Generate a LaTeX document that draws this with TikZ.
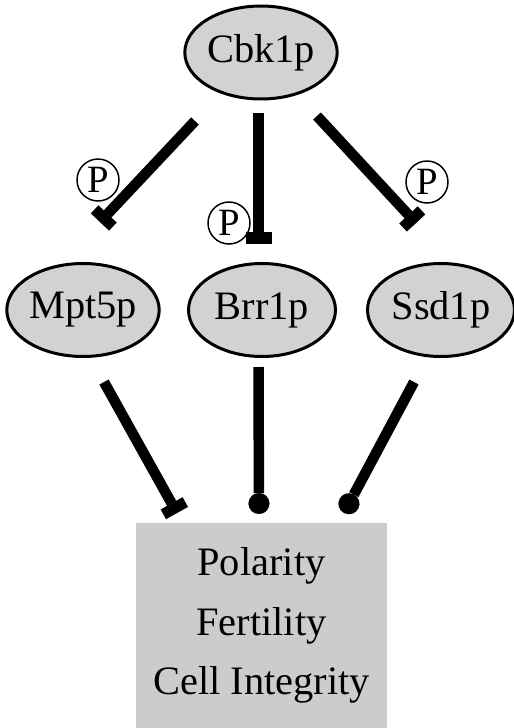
\documentclass[tikz,border=0pt]{standalone}
\usepackage{fontspec}
\setmainfont{Liberation Serif}
\usetikzlibrary{arrows.meta,shapes.geometric}

\begin{document}
\begin{tikzpicture}[x=0.02cm, y=-0.02cm,
  protein/.style={draw, ellipse, line width=0.06cm, fill=gray!35,
    minimum width=2.94cm, minimum height=1.86cm, inner sep=0pt,
    font=\fontsize{23}{28}\selectfont},
  phospho/.style={draw, circle, line width=0.03cm, fill=white,
    minimum size=0.84cm, inner sep=0pt, font=\fontsize{22}{26}\selectfont},
  inhibit/.style={line width=0.21cm,
    -{Rectangle[length=0.22cm, width=0.5cm, line width=0.1pt]}},
  bind/.style={line width=0.21cm, -{Circle[length=0.42cm, line width=0.1pt]}}]
  \useasboundingbox (0,0) rectangle (514,728);
  \node[protein] (cbk) at (261,52.5) {Cbk1p};
  \node[protein] (mpt) at (83,310) {Mpt5p};
  \node[protein] (brr) at (262,310) {Brr1p};
  \node[protein] (ssd) at (441,310) {Ssd1p};
  \node[draw=none, fill=gray!40, rectangle, minimum width=5.02cm,
    minimum height=4.1cm, align=center,
    font=\fontsize{23}{33.8}\selectfont] (out) at (261.5,625.5)
    {Polarity\\Fertility\\Cell Integrity};
  \node[phospho] (p1) at (98,180) {P};
  \node[phospho] (p2) at (229,223) {P};
  \node[phospho] (p3) at (427,182) {P};
  % ends of the connectors
  \coordinate (a1) at (195,121);  \coordinate (a2) at (100,222);
  \coordinate (b1) at (258.5,113); \coordinate (b2) at (258.5,243);
  \coordinate (c1) at (317,116);  \coordinate (c2) at (416,223);
  \coordinate (d1) at (104,382);  \coordinate (d2) at (177,513);
  \coordinate (e1) at (258.5,367); \coordinate (e2) at (259,514);
  \coordinate (f1) at (414,382);  \coordinate (f2) at (344,513);
  % Draw the inhibitions by Cbk1p
  \draw[inhibit] (a1) -- (a2);
  \draw[inhibit] (b1) -- (b2);
  \draw[inhibit] (c1) -- (c2);
  % Draw the effects on the cell
  \draw[inhibit] (d1) -- (d2);
  \draw[bind] (e1) -- (e2);
  \draw[bind] (f1) -- (f2);
\end{tikzpicture}
\end{document}
